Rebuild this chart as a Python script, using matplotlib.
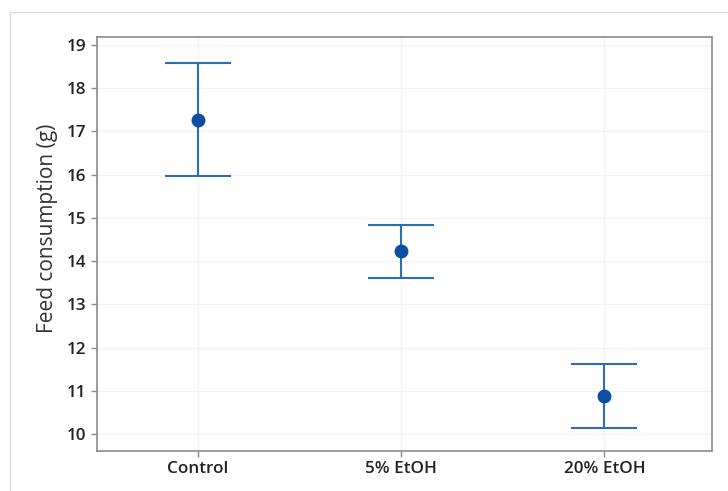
import matplotlib.pyplot as plt
from matplotlib.patches import Rectangle

groups = ['Control', '5% EtOH', '20% EtOH']
means = [17.26, 14.23, 10.88]
upper = [18.58, 14.84, 11.63]
lower = [15.97, 13.62, 10.15]

plt.rcParams['font.family'] = ['Open Sans', 'DejaVu Sans']

fig = plt.figure(figsize=(7.28, 4.91), dpi=100)
fig.patches.append(Rectangle((10 / 728, -0.05), 1.0, 1 - 12 / 491 + 0.05,
                             transform=fig.transFigure, fill=False,
                             edgecolor='#dcdcdc', lw=1.0))
ax = fig.add_axes([97 / 728, 1 - 451 / 491, 615 / 728, 414 / 491])

x = list(range(len(groups)))
err_lo = [m - l for m, l in zip(means, lower)]
err_hi = [u - m for u, m in zip(upper, means)]
ax.errorbar(x, means, yerr=[err_lo, err_hi], fmt='none', ecolor='#2d6db4',
            elinewidth=1.5, capsize=24, capthick=1.5, zorder=3)
ax.plot(x, means, 'o', color='#0b4f9e', markersize=9, zorder=4)

ax.set_xlim(-0.497, 2.53)
ax.set_ylim(9.61, 19.185)
ax.set_yticks(range(10, 20))
ax.set_xticks(x)
ax.set_xticklabels(groups)
ax.grid(True, color='#f3f3f3', lw=0.9)
ax.set_axisbelow(True)
for s in ax.spines.values():
    s.set_color('#8c8c8c')
    s.set_linewidth(1.2)
ax.tick_params(axis='both', colors='#8c8c8c', length=4, width=1)
for lab in ax.get_xticklabels() + ax.get_yticklabels():
    lab.set_color('#222222')
    lab.set_fontsize(12.3)
    lab.set_fontweight('semibold')
fig.text(47 / 728, 1 - 228 / 491, 'Feed consumption (g)', rotation=90,
         ha='center', va='center', fontsize=15, color='#333333')

fig.savefig('out.png', dpi=100)
